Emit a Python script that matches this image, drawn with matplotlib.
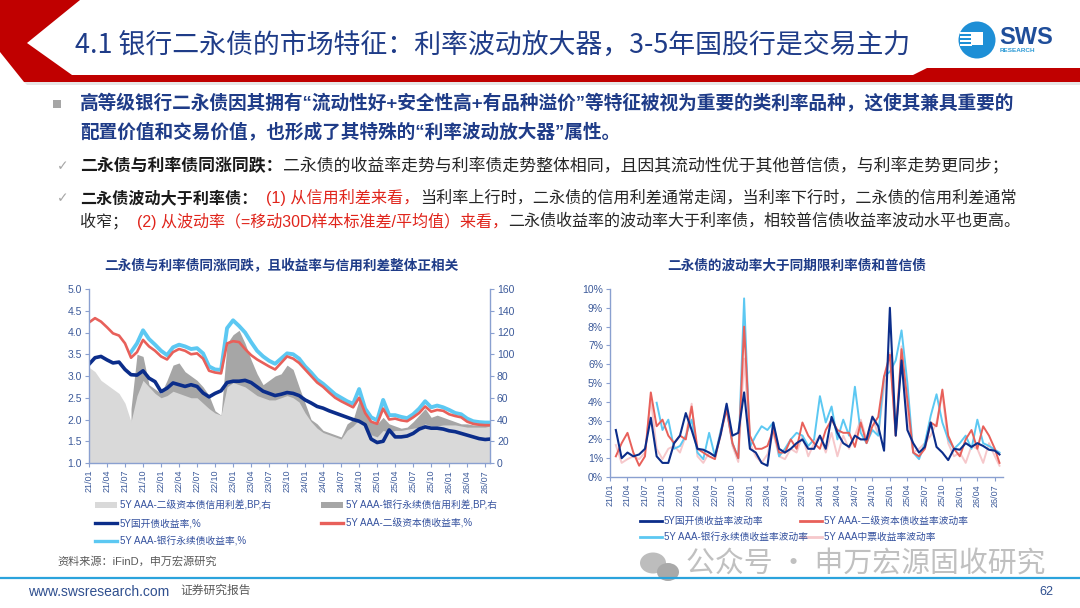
import numpy as np
import matplotlib
matplotlib.use("Agg")
import matplotlib.pyplot as plt
from matplotlib.patches import Polygon, Circle, Rectangle, Ellipse
from matplotlib.ticker import FuncFormatter

plt.rcParams['font.family'] = ['Liberation Sans', 'Noto Sans CJK SC', 'DejaVu Sans']

nan = np.nan

# month index counted from 2021/01, last point a bit after 2026/07
months = np.append(np.arange(67), 66.8)
tick_months = np.arange(0, 67, 3)
tick_labels = [f"{21 + m // 12}/{m % 12 + 1:02d}" for m in tick_months]

# left chart: yields (%), left axis
cdb_yield = [3.27, 3.42, 3.45, 3.37, 3.30, 3.32, 3.15, 3.03, 3.02, 3.12,
             2.95, 2.87, 2.64, 2.72, 2.84, 2.80, 2.76, 2.80, 2.76, 2.61,
             2.52, 2.60, 2.66, 2.85, 2.88, 2.88, 2.90, 2.85, 2.75, 2.65,
             2.60, 2.55, 2.58, 2.62, 2.60, 2.55, 2.45, 2.38, 2.30, 2.26,
             2.20, 2.15, 2.10, 2.05, 2.00, 1.96, 1.88, 1.55, 1.47, 1.50,
             1.76, 1.60, 1.60, 1.62, 1.68, 1.78, 1.83, 1.80, 1.80, 1.78,
             1.74, 1.72, 1.68, 1.64, 1.60, 1.56, 1.54, 1.55]
capital_yield = [4.23, 4.33, 4.25, 4.12, 3.98, 3.93, 3.75, 3.42, 3.55, 3.83,
                 3.68, 3.58, 3.45, 3.38, 3.55, 3.62, 3.58, 3.50, 3.52, 3.40,
                 3.12, 3.08, 3.06, 3.75, 3.80, 3.78, 3.62, 3.48, 3.38, 3.30,
                 3.22, 3.15, 3.30, 3.45, 3.40, 3.30, 3.15, 3.00, 2.85, 2.75,
                 2.62, 2.50, 2.42, 2.35, 2.28, 2.50, 2.15, 1.95, 1.90, 2.25,
                 2.00, 2.02, 1.98, 1.96, 2.05, 2.15, 2.30, 2.18, 2.22, 2.20,
                 2.12, 2.08, 2.05, 1.95, 1.90, 1.88, 1.87, 1.87]
perp_yield = [nan] * 7 + [3.55, 3.75, 4.05,
              3.85, 3.72, 3.58, 3.48, 3.66, 3.72, 3.68, 3.62, 3.64, 3.52,
              3.22, 3.15, 3.14, 4.10, 4.28, 4.15, 4.00, 3.78, 3.58, 3.45,
              3.35, 3.28, 3.40, 3.52, 3.50, 3.40, 3.22, 3.08, 2.92, 2.82,
              2.70, 2.58, 2.50, 2.42, 2.36, 2.70, 2.25, 2.05, 1.98, 2.45,
              2.10, 2.10, 2.06, 2.03, 2.12, 2.25, 2.42, 2.28, 2.32, 2.28,
              2.22, 2.15, 2.12, 2.02, 1.96, 1.94, 1.93, 1.93]
# left chart: credit spreads (bp), right axis
capital_spread = [88, 84, 76, 72, 68, 64, 55, 38, 62, 76,
                  70, 64, 60, 62, 66, 64, 62, 60, 60, 55,
                  50, 46, 44, 70, 74, 72, 70, 66, 62, 60,
                  58, 58, 60, 62, 60, 56, 46, 38, 32, 28,
                  26, 24, 22, 30, 34, 40, 36, 26, 24, 30,
                  28, 30, 30, 31, 32, 33, 36, 34, 34, 35,
                  35, 35, 34, 33, 33, 33, 33, 34]
perp_spread = [nan] * 7 + [50, 100, 98,
               72, 68, 64, 76, 90, 92, 84, 80, 76, 70,
               62, 48, 44, 110, 118, 122, 110, 95, 82, 72,
               76, 80, 82, 90, 86, 70, 55, 40, 36, 30,
               28, 26, 24, 36, 40, 58, 48, 38, 36, 42,
               36, 34, 32, 33, 38, 44, 50, 42, 44, 42,
               40, 38, 36, 36, 35, 35, 35, 35]

# right chart: 30D rolling volatility (%)
cdb_vol = [nan, 2.5, 1.0, 1.3, 1.1, 1.2, 1.5, 3.15, 1.1, 0.75,
           0.75, 1.8, 2.2, 3.4, 2.5, 1.5, 1.45, 1.3, 1.1, 2.3,
           3.9, 2.2, 2.35, 4.5, 1.5, 1.3, 0.75, 0.6, 2.9, 1.5,
           1.3, 1.5, 1.8, 2.0, 1.5, 1.5, 2.2, 1.5, 3.2, 2.35,
           1.8, 1.6, 2.2, 2.0, 2.0, 3.2, 2.7, 1.4, 9.0, 2.2,
           6.2, 2.5, 1.8, 1.3, 1.6, 2.9, 1.6, 1.3, 0.9, 1.5,
           1.45, 1.8, 1.6, 1.8, 1.65, 1.45, 1.4, 1.2]
capital_vol = [nan, 1.1, 1.8, 2.35, 1.3, 0.6, 1.1, 4.5, 2.7, 3.05,
               2.2, 1.8, 2.2, 2.0, 3.75, 1.5, 1.3, 1.1, 0.95, 2.35,
               3.6, 1.8, 1.0, 8.0, 2.2, 1.5, 1.5, 1.65, 2.5, 1.3,
               1.3, 2.0, 1.5, 2.9, 2.2, 1.8, 1.5, 2.5, 3.05, 2.5,
               2.35, 2.35, 1.6, 2.9, 1.8, 2.7, 3.2, 5.35, 6.5, 2.2,
               6.8, 4.1, 1.3, 1.1, 1.5, 2.9, 2.7, 4.65, 2.2, 1.5,
               1.1, 2.0, 2.5, 1.5, 2.7, 2.2, 1.5, 0.75]
perp_vol = [nan] * 8 + [3.95, 2.5,
            3.05, 1.5, 1.65, 2.2, 3.05, 1.3, 0.95, 2.35, 1.1, 2.5,
            3.6, 1.8, 1.0, 9.5, 1.6, 2.2, 2.7, 2.5, 2.9, 1.1,
            1.5, 2.0, 2.35, 2.2, 1.65, 2.0, 4.3, 2.9, 3.75, 2.0,
            3.05, 2.2, 4.8, 2.35, 1.8, 2.5, 2.2, 5.35, 5.6, 6.2,
            7.8, 5.0, 1.3, 0.95, 1.8, 3.25, 4.4, 2.9, 2.0, 1.5,
            1.8, 2.2, 1.5, 3.05, 1.8, 1.65, 1.45, 1.3]
mtn_vol = [nan, 1.7, 0.75, 0.95, 1.1, 0.95, 1.3, 4.2, 1.5, 0.95,
           1.5, 1.65, 1.3, 2.2, 3.9, 1.1, 0.75, 1.3, 1.1, 2.2,
           3.75, 1.65, 0.8, 6.3, 1.8, 1.1, 0.75, 1.2, 2.35, 1.1,
           0.95, 1.5, 1.3, 2.2, 1.1, 1.8, 2.2, 1.3, 2.35, 1.1,
           2.2, 1.5, 2.2, 3.05, 2.0, 3.25, 2.2, 4.8, 6.6, 2.2,
           6.95, 3.25, 1.3, 1.5, 1.8, 2.2, 2.9, 4.45, 1.8, 1.1,
           1.3, 0.75, 1.65, 1.5, 0.75, 1.8, 1.1, 0.6]

left_legend = ['5Y AAA-二级资本债信用利差,BP,右', '5Y AAA-银行永续债信用利差,BP,右',
               '5Y国开债收益率,%', '5Y AAA-二级资本债收益率,%', '5Y AAA-银行永续债收益率,%']
right_legend = ['5Y国开债收益率波动率', '5Y AAA-二级资本债收益率波动率',
                '5Y AAA-银行永续债收益率波动率', '5Y AAA中票收益率波动率']

NAVY = '#0B2D8A'
RED = '#E8605A'
SKY = '#5CC8F2'
PINK = '#F6C8CB'
GRAY_L = '#D9D9D9'
GRAY_D = '#A6A6A6'
DARKRED = '#C00000'
TITLE_BLUE = '#1F3C88'
SPINE = '#8AA0D0'
TICK = '#3C5A9A'

W, H = 1080, 608
fig = plt.figure(figsize=(10.8, 6.08), dpi=100)
fig.patch.set_facecolor('white')

# pixel-coordinate layer for the slide decoration and text
bg = fig.add_axes([0, 0, 1, 1])
bg.set_xlim(0, W)
bg.set_ylim(H, 0)
bg.axis('off')
bg.set_zorder(-1)


def box(x0, y0, x1, y1):
    return [x0 / W, 1 - y1 / H, (x1 - x0) / W, (y1 - y0) / H]


# header
bg.add_patch(Polygon([(0, 0), (80, 0), (27, 43), (72, 75), (913, 75), (927, 68),
                      (1080, 68), (1080, 82), (24, 82), (0, 52)],
                     closed=True, color=DARKRED, lw=0))
bg.add_patch(Polygon([(24, 82), (1080, 82), (1080, 85), (27, 85)],
                     closed=True, color='#E6E6E6', lw=0))
bg.text(75, 45, '4.1 银行二永债的市场特征：利率波动放大器，3-5年国股行是交易主力',
        fontsize=19.4, color=TITLE_BLUE, family=['Noto Sans CJK SC'], va='center')

# logo
bg.add_patch(Circle((977, 40), 18.5, color='#1E8FD6', lw=0))
for yy in (33, 37, 41, 45):
    bg.add_patch(Rectangle((960, yy - 1), 12, 1.6, color='white', lw=0))
bg.add_patch(Rectangle((971, 32), 12, 13, color='white', lw=0))
bg.text(999, 37, 'SWS', fontsize=17, fontweight='bold', color='#1F4E9A', va='center')
bg.text(1000, 51, 'RESEARCH', fontsize=4.6, fontweight='bold', color='#2E9BD6', va='center')

renderer = fig.canvas.get_renderer()


def put_line(x, y, parts, size, end=None):
    # write the coloured pieces one after the other; squeeze to end if given
    if end is not None:
        probe = [bg.text(0, 0, s, fontsize=size, fontweight=w) for s, c, w in parts]
        total = sum(t.get_window_extent(renderer).width for t in probe)
        for t in probe:
            t.remove()
        size = size * (end - x) / total
    for s, color, weight in parts:
        t = bg.text(x, y, s, fontsize=size, color=color, fontweight=weight, va='center')
        x += t.get_window_extent(renderer).width


BLACK = '#1A1A1A'
TXT = '#262626'
REDTXT = '#E0241B'

bg.add_patch(Rectangle((53, 100), 8, 8, color='#A6A6A6', lw=0))
put_line(80, 104, [('高等级银行二永债因其拥有“流动性好+安全性高+有品种溢价”等特征被视为重要的类利率品种，这使其兼具重要的',
                    TITLE_BLUE, 'bold')], 13, end=1015)
put_line(80, 132, [('配置价值和交易价值，也形成了其特殊的“利率波动放大器”属性。', TITLE_BLUE, 'bold')], 13.45)

for yy in (166, 198):
    bg.text(57, yy, '✓', fontsize=10, color='#A6A6A6', family=['DejaVu Sans'], va='center')
put_line(80, 166, [('二永债与利率债同涨同跌：', BLACK, 'bold'),
                   ('二永债的收益率走势与利率债走势整体相同，且因其流动性优于其他普信债，与利率走势更同步；', TXT, 'normal')],
         12.3, end=1011)
put_line(80, 198, [('二永债波动大于利率债：', BLACK, 'bold'),
                   ('  (1) 从信用利差来看，', REDTXT, 'normal'),
                   ('当利率上行时，二永债的信用利差通常走阔，当利率下行时，二永债的信用利差通常', TXT, 'normal')],
         12.3, end=1016)
put_line(80, 221, [('收窄；', TXT, 'normal'),
                   ('  (2) 从波动率（=移动30D样本标准差/平均值）来看，', REDTXT, 'normal'),
                   ('二永债收益率的波动率大于利率债，相较普信债收益率波动水平也更高。', TXT, 'normal')],
         12.3, end=1026)

# chart titles
bg.text(281, 266, '二永债与利率债同涨同跌，且收益率与信用利差整体正相关', fontsize=9.8,
        fontweight='bold', color=TITLE_BLUE, ha='center', va='center')
bg.text(797, 266, '二永债的波动率大于同期限利率债和普信债', fontsize=9.8,
        fontweight='bold', color=TITLE_BLUE, ha='center', va='center')


def style(ax):
    for side in ('left', 'right', 'bottom', 'top'):
        ax.spines[side].set_color(SPINE)
        ax.spines[side].set_linewidth(1.0)
    ax.spines['top'].set_visible(False)
    ax.tick_params(axis='both', direction='out', length=3, width=0.8, color=SPINE,
                   labelcolor=TICK, labelsize=7.5, pad=2)
    ax.set_xticks(tick_months)
    ax.set_xticklabels(tick_labels, rotation=90, fontsize=6.5)


# left chart
ax1 = fig.add_axes(box(89, 289, 490, 463))
ax1r = ax1.twinx()
ax1.set_zorder(ax1r.get_zorder() + 1)
ax1.patch.set_visible(False)
ax1r.fill_between(months, perp_spread, color=GRAY_D, lw=0)
ax1r.fill_between(months, capital_spread, color=GRAY_L, lw=0)
ax1.plot(months, perp_yield, color=SKY, lw=2.8, solid_joinstyle='round')
ax1.plot(months, capital_yield, color=RED, lw=1.9, solid_joinstyle='round')
ax1.plot(months, cdb_yield, color=NAVY, lw=2.6, solid_joinstyle='round')
ax1.set_xlim(0, 66.8)
ax1.set_ylim(1, 5)
ax1.set_yticks(np.arange(1, 5.01, 0.5))
ax1.yaxis.set_major_formatter(FuncFormatter(lambda v, _: f"{v:.1f}"))
ax1r.set_ylim(0, 160)
ax1r.set_yticks(np.arange(0, 161, 20))
style(ax1)
style(ax1r)
ax1.spines['right'].set_visible(False)
ax1r.spines['left'].set_visible(False)
ax1r.spines['bottom'].set_visible(False)
ax1r.tick_params(axis='x', bottom=False, labelbottom=False)

# right chart
ax2 = fig.add_axes(box(610, 289, 1003, 477))
ax2.plot(months, mtn_vol, color=PINK, lw=1.4)
ax2.plot(months, perp_vol, color=SKY, lw=1.4)
ax2.plot(months, capital_vol, color=RED, lw=1.4)
ax2.plot(months, cdb_vol, color=NAVY, lw=1.5)
ax2.set_xlim(0, 67.4)
ax2.set_ylim(0, 10)
ax2.set_yticks(np.arange(0, 11, 1))
ax2.yaxis.set_major_formatter(FuncFormatter(lambda v, _: f"{v:.0f}%"))
style(ax2)
ax2.spines['right'].set_visible(False)

# legends
LEG = '#34519E'
left_items = [(95, 505, GRAY_L, 'patch'), (321, 505, GRAY_D, 'patch'),
              (95, 523, NAVY, 'line'), (321, 523, RED, 'line'), (95, 541, SKY, 'line')]
for (x, y, c, kind), label in zip(left_items, left_legend):
    if kind == 'patch':
        bg.add_patch(Rectangle((x, y - 3), 22, 6, color=c, lw=0))
    else:
        bg.plot([x, x + 22], [y, y], color=c, lw=2.4)
    bg.text(x + 25, y, label, fontsize=7, color=LEG, va='center')

right_items = [(640, 521, NAVY), (800, 521, RED), (640, 537, SKY), (800, 537, PINK)]
for (x, y, c), label in zip(right_items, right_legend):
    bg.plot([x, x + 22], [y, y], color=c, lw=2.0)
    bg.text(x + 24, y, label, fontsize=7, color=LEG, va='center')

bg.text(57, 561, '资料来源：iFinD，申万宏源研究', fontsize=8, color='#595959', va='center')

# watermark
bg.add_patch(Ellipse((653, 563), 26, 21, color='#BDBDBD', lw=0))
bg.add_patch(Ellipse((668, 572), 22, 18, color='#A9A9A9', lw=0))
bg.text(686, 565, '公众号 · 申万宏源固收研究', fontsize=20.8, color='#C0C0C0',
        family=['Noto Sans CJK SC'], va='center')

# footer
bg.plot([0, W], [578, 578], color='#2BA3DC', lw=1.6)
bg.text(28, 592, 'www.swsresearch.com', fontsize=10, color='#2F4F8F', va='center')
bg.text(180, 591, '证券研究报告', fontsize=8.5, color='#595959', va='center')
bg.text(1046, 592, '62', fontsize=9, color='#2F4F8F', ha='center', va='center')

fig.savefig('out.png', dpi=100, facecolor='white')
